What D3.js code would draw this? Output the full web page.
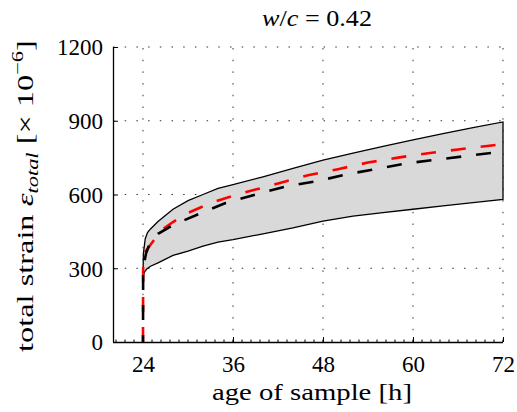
<!DOCTYPE html>
<html>
<head>
<meta charset="utf-8">
<script src="https://cdn.jsdelivr.net/npm/d3@7"></script>
<style>
body{margin:0;background:#fff;}
svg text{font-family:"Liberation Serif","DejaVu Serif",serif;fill:#000;}
</style>
</head>
<body>
<svg id="c" width="517" height="412"></svg>
<script>
// ---- data ----
const xTicks = [24, 36, 48, 60, 72];
const yTicks = [0, 300, 600, 900, 1200];
const upperHours = [24.0, 24.05, 24.3, 24.6, 25, 26, 28, 30, 32, 34, 36, 40, 44, 48, 52, 56, 60, 64, 68, 72];
const upperStrain = [265, 360, 420, 445, 460, 490, 540, 575, 600, 625, 640, 672, 706, 740, 768, 796, 822, 848, 872, 895];
const lowerHours = [24.0, 24.2, 24.5, 25, 26, 28, 30, 32, 34, 36, 40, 44, 48, 52, 56, 60, 64, 68, 72];
const lowerStrain = [265, 285, 297, 308, 322, 352, 370, 390, 406, 416, 440, 464, 492, 512, 526, 540, 554, 567, 580];
const redHours = [24.0, 24.02, 24.3, 25.4, 26.7, 28, 30, 33, 36, 39, 42, 46, 50, 54, 58, 62, 66, 72];
const redStrain = [0, 300, 367, 412, 460, 488, 525, 565, 595, 620, 645, 678, 703, 730, 750, 768, 783, 805];
const blackHours = [24.0, 24.02, 24.4, 24.9, 26, 28, 31.6, 35, 39.6, 43, 47.6, 51.3, 55, 59.2, 64, 68, 72];
const blackStrain = [0, 300, 360, 400, 440, 476, 523, 565, 605, 632, 657, 683, 703, 727, 745, 760, 775];

const svg = d3.select("#c");
const L = 113, R = 503, T = 47, B = 342;
const x = d3.scaleLinear().domain([20, 72]).range([L, R]);
const y = d3.scaleLinear().domain([0, 1200]).range([B, T]);

// grid
const g = svg.append("g");
g.selectAll("line.vg").data(xTicks).enter().append("line")
  .attr("x1", d => x(d)).attr("x2", d => x(d)).attr("y1", B).attr("y2", T)
  .attr("stroke", "#333").attr("stroke-width", 1).attr("stroke-dasharray", "1.5,10.2");
g.selectAll("line.hg").data(yTicks.slice(1)).enter().append("line")
  .attr("x1", L).attr("x2", R).attr("y1", d => y(d)).attr("y2", d => y(d))
  .attr("stroke", "#333").attr("stroke-width", 1).attr("stroke-dasharray", "1.5,10.2");

// band
const upper = upperHours.map((h, i) => [h, upperStrain[i]]);
const lower = lowerHours.map((h, i) => [h, lowerStrain[i]]);
const bandPts = upper.concat(lower.slice().reverse());
const line = d3.line().x(d => x(d[0])).y(d => y(d[1]));
svg.append("path").attr("d", line(bandPts) + "Z")
  .attr("fill", "#d9d9d9").attr("stroke", "#000").attr("stroke-width", 1.3);

// dashed lines
const red = redHours.map((h, i) => [h, redStrain[i]]);
const black = blackHours.map((h, i) => [h, blackStrain[i]]);
svg.append("path").attr("d", line(red)).attr("fill", "none")
  .attr("stroke", "#ff0000").attr("stroke-width", 2.6).attr("stroke-dasharray", "15,15");
svg.append("path").attr("d", line(black)).attr("fill", "none")
  .attr("stroke", "#000").attr("stroke-width", 2.6).attr("stroke-dasharray", "15,15").attr("stroke-dashoffset", 8);

// axes
const xAxis = d3.axisBottom(x).tickValues(xTicks).tickSize(-5).tickPadding(14).tickFormat(d3.format("d"));
const xMinor = d3.range(20.4, 72.01, 1.2);
svg.append("g").selectAll("line").data(xMinor).enter().append("line")
  .attr("x1", d => x(d)).attr("x2", d => x(d)).attr("y1", B).attr("y2", B - 2.5)
  .attr("stroke", "#000").attr("stroke-width", 1);
const gx = svg.append("g").attr("transform", `translate(0,${B})`).call(xAxis);
const gy = svg.append("g").attr("transform", `translate(${L},0)`)
  .call(d3.axisLeft(y).tickValues(yTicks).tickSize(-5).tickPadding(10).tickFormat(d3.format("d")));
[gx, gy].forEach(a => {
  a.attr("font-family", null).attr("font-size", null);
  a.select(".domain").attr("stroke", "#000").attr("stroke-width", 1.3);
  a.selectAll(".tick line").attr("stroke", "#000").attr("stroke-width", 1);
  a.selectAll(".tick text").style("font-size", "23px");
});
gx.select(".domain").attr("d", `M${L},0.5H${R}`);
gy.select(".domain").attr("d", `M0.5,${B}V${T}`);
gx.selectAll(".tick text").attr("dy", "0.71em");
gy.selectAll(".tick text").attr("dy", "0.34em");

// stretch text horizontally to mimic the wide LaTeX font
function fit(sel, base, target) {
  const w = sel.node().getComputedTextLength();
  sel.attr("transform", base + ` scale(${(target / w).toFixed(4)},1)`);
}

// labels
const xl = svg.append("text").attr("text-anchor", "middle").style("font-size", "23px").text("age of sample [h]");
fit(xl, "translate(312,400)", 200);

const title = svg.append("text").attr("text-anchor", "middle").style("font-size", "23px");
title.append("tspan").style("font-style", "italic").text("w");
title.append("tspan").text("/");
title.append("tspan").style("font-style", "italic").text("c");
title.append("tspan").text(" = 0.42");
fit(title, "translate(317,26)", 110);

const yl = svg.append("text").attr("text-anchor", "middle").style("font-size", "23px");
yl.append("tspan").text("total strain ");
yl.append("tspan").style("font-style", "italic").text("ε");
yl.append("tspan").style("font-style", "italic").style("font-size", "16px").attr("dy", 5).text("total");
yl.append("tspan").attr("dy", -5).text(" [× 10");
yl.append("tspan").style("font-size", "16px").attr("dy", -10).text("−6");
yl.append("tspan").attr("dy", 10).text("]");
fit(yl, "translate(33,196) rotate(-90)", 312);
</script>
</body>
</html>
